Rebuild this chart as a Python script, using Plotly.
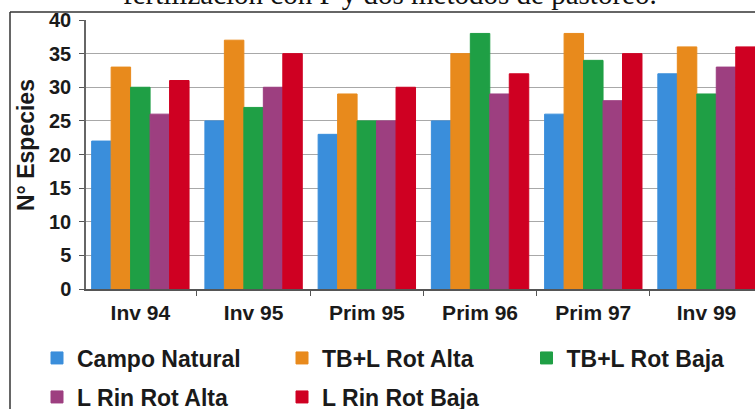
import plotly.graph_objects as go

categories = ["Inv 94", "Inv 95", "Prim 95", "Prim 96", "Prim 97", "Inv 99"]
series_names = ["Campo Natural", "TB+L Rot Alta", "TB+L Rot Baja", "L Rin Rot Alta", "L Rin Rot Baja"]
campo_natural = [22, 25, 23, 25, 26, 32]
tbl_rot_alta = [33, 37, 29, 35, 38, 36]
tbl_rot_baja = [30, 27, 25, 38, 34, 29]
lrin_rot_alta = [26, 30, 25, 29, 28, 33]
lrin_rot_baja = [31, 35, 30, 32, 35, 36]
y_ticks = [0, 5, 10, 15, 20, 25, 30, 35, 40]
y_title = "N° Especies"
title_text = "fertilización con P y dos métodos de pastoreo."

colors = ["#3a8edb", "#e88a1c", "#1f9f45", "#9d3f80", "#cf0022"]
series = [campo_natural, tbl_rot_alta, tbl_rot_baja, lrin_rot_alta, lrin_rot_baja]
legends = ["legend", "legend", "legend3", "legend2", "legend2"]

W, H = 755, 409
ML, MR, MT, MB = 86, 0, 20, 120
PW, PH = W - ML - MR, H - MT - MB

def px_x(p):
    return (p - ML) / PW

def px_y(p):
    return (H - MB - p) / PH

fig = go.Figure()
for name, vals, col, lg in zip(series_names, series, colors, legends):
    fig.add_trace(go.Bar(
        x=categories, y=vals, name=name, legend=lg,
        marker=dict(color=col, line=dict(color=col, width=1)),
    ))

font_main = "Liberation Sans, Arial, sans-serif"
legend_font = dict(size=23, family=font_main, color="#1a1a1a", weight="bold")

def legend_cfg(xp, yp):
    return dict(
        orientation="h", x=px_x(xp), y=px_y(yp), xanchor="left", yanchor="middle",
        entrywidth=200, entrywidthmode="pixels", itemwidth=30,
        font=legend_font, bgcolor="rgba(0,0,0,0)", traceorder="normal",
    )

fig.update_layout(
    width=W, height=H,
    margin=dict(l=ML, r=MR, t=MT, b=MB, autoexpand=False),
    paper_bgcolor="white", plot_bgcolor="white",
    barmode="group", bargap=0.14, bargroupgap=0,
    font=dict(family=font_main, color="#1a1a1a"),
    xaxis=dict(
        type="category", range=[-0.48, 5.428], automargin=False,
        tickson="boundaries", ticks="outside", ticklen=5, tickcolor="#555",
        showline=True, linecolor="#555", linewidth=1.5,
        tickfont=dict(size=21, family=font_main, color="#1a1a1a", weight="bold"),
        showgrid=False, ticklabelstandoff=4,
    ),
    yaxis=dict(
        range=[0, 40], tickvals=y_ticks, automargin=False,
        ticks="outside", ticklen=5, tickcolor="#555",
        showline=True, linecolor="#666", linewidth=1.5,
        showgrid=True, gridcolor="#a8a8a8", gridwidth=1,
        zeroline=False,
        tickfont=dict(size=20, family=font_main, color="#1a1a1a", weight="bold"),
        ticklabelstandoff=4,
    ),
    legend=legend_cfg(37, 358),
    legend3=legend_cfg(526.5, 358),
    legend2=legend_cfg(37, 397),
    showlegend=True,
)

# y-axis title
fig.add_annotation(
    text=y_title, xref="paper", yref="paper",
    x=px_x(26), y=px_y(145), xanchor="center", yanchor="middle",
    textangle=-90, showarrow=False,
    font=dict(size=23, family=font_main, color="#1a1a1a", weight="bold"),
)

# figure caption (cut off at the top of the image)
fig.add_annotation(
    text=title_text, xref="paper", yref="paper",
    x=px_x(390), y=px_y(-6), xanchor="center", yanchor="middle",
    showarrow=False,
    font=dict(family="Liberation Serif, Times New Roman, serif", size=29, color="#111"),
)

# outer frame of the figure panel (partially visible)
fig.add_shape(type="line", xref="paper", yref="paper",
              x0=px_x(10), y0=px_y(12), x1=px_x(770), y1=px_y(12),
              line=dict(color="#333", width=1.5))
fig.add_shape(type="line", xref="paper", yref="paper",
              x0=px_x(10), y0=px_y(12), x1=px_x(10), y1=px_y(420),
              line=dict(color="#333", width=1.5))

fig.write_html("out.html", config={"displayModeBar": False},
               post_script="document.body.style.margin='0px';")
